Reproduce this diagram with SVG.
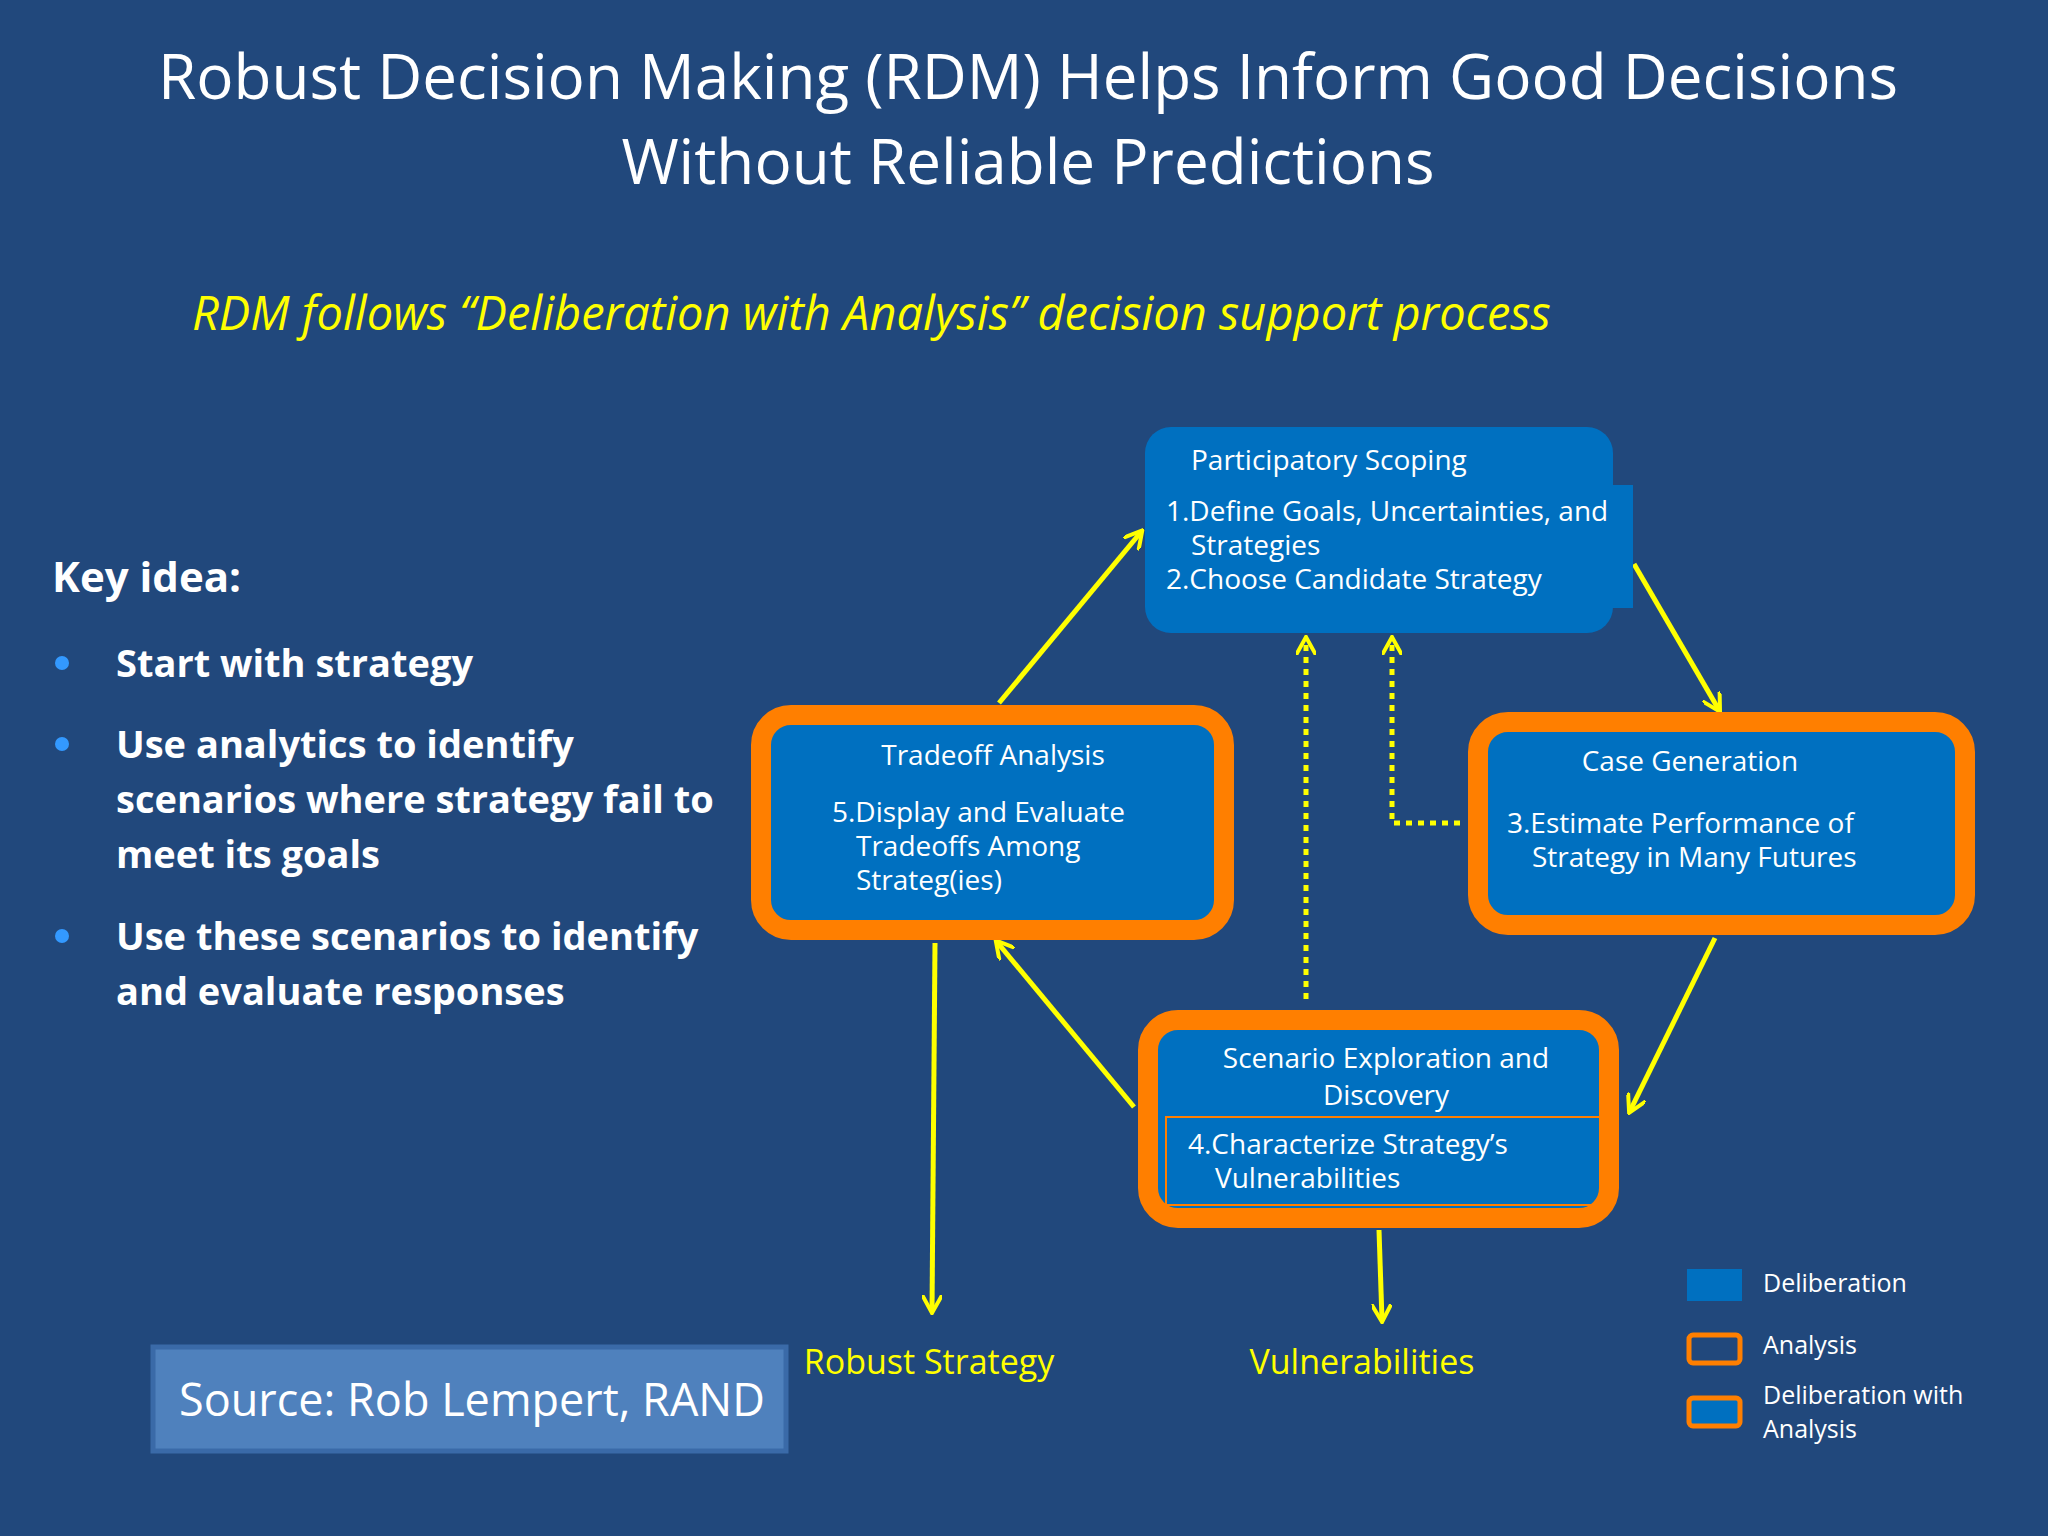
<svg xmlns="http://www.w3.org/2000/svg" width="2048" height="1536" viewBox="0 0 2048 1536">
<defs>
<marker id="ah" viewBox="0 0 10 10" refX="8" refY="5" markerWidth="4" markerHeight="4" orient="auto"><path d="M0,0 L9,5 L0,10" fill="none" stroke="#ffff00" stroke-width="2"/></marker>
</defs>
<style>
text{font-family:"Open Sans","DejaVu Sans",sans-serif;fill:#fff}
.t{font-size:28px}
.kb{font-size:38px;font-weight:bold}
.lg{font-size:25px}
.blue{fill:#0070c0}
.orb{fill:#0070c0;stroke:#ff7f00;stroke-width:20}
.a{stroke:#ffff00;stroke-width:5;fill:none;marker-end:url(#ah)}
.d{stroke:#ffff00;stroke-width:5;fill:none;stroke-dasharray:6,6;marker-end:url(#ah)}
</style>
<rect width="2048" height="1536" fill="#21487c"/>
<g id="title">
<text x="1028" y="99" font-size="62" text-anchor="middle">Robust Decision Making (RDM) Helps Inform Good Decisions</text>
<text x="1028" y="184" font-size="62" text-anchor="middle">Without Reliable Predictions</text>
<text x="192" y="330" font-size="47" font-style="italic" style="fill:#ffff00">RDM follows “Deliberation with Analysis” decision support process</text>
</g>
<g id="keyidea">
<text x="52" y="592" font-size="42" font-weight="bold">Key idea:</text>
<circle cx="62" cy="663" r="7" fill="#3399ff"/><circle cx="62" cy="744" r="7" fill="#3399ff"/><circle cx="62" cy="936" r="7" fill="#3399ff"/>
<text x="116" y="677" class="kb">Start with strategy</text>
<text x="116" y="758" class="kb">Use analytics to identify</text>
<text x="116" y="813" class="kb">scenarios where strategy fail to</text>
<text x="116" y="868" class="kb">meet its goals</text>
<text x="116" y="950" class="kb">Use these scenarios  to identify</text>
<text x="116" y="1005" class="kb">and evaluate responses</text>
</g>
<g id="connectors">
<line x1="999" y1="703" x2="1141" y2="532" class="a"/>
<line x1="1634" y1="564" x2="1719" y2="710" class="a"/>
<line x1="1715" y1="938" x2="1630" y2="1111" class="a"/>
<line x1="1134" y1="1107" x2="997" y2="942" class="a"/>
<line x1="935" y1="943" x2="932" y2="1311" class="a"/>
<line x1="1379" y1="1230" x2="1382" y2="1320" class="a"/>
<line x1="1306" y1="999" x2="1306" y2="639" class="d"/>
<polyline points="1460,823 1392,823 1392,639" class="d"/>
</g>
<g id="scoping">
<rect x="1145" y="427" width="468" height="206" rx="26" class="blue"/>
<rect x="1560" y="485" width="73" height="123" class="blue"/>
<text x="1191" y="470" class="t">Participatory Scoping</text>
<text x="1166" y="521" class="t">1.Define Goals, Uncertainties, and</text>
<text x="1191" y="555" class="t">Strategies</text>
<text x="1166" y="589" class="t">2.Choose Candidate Strategy</text>
</g>
<g id="tradeoff">
<rect x="761" y="715" width="463" height="215" rx="30" class="orb"/>
<text x="993" y="765" class="t" text-anchor="middle">Tradeoff Analysis</text>
<text x="832" y="822" class="t">5.Display and Evaluate</text>
<text x="856" y="856" class="t">Tradeoffs Among</text>
<text x="856" y="890" class="t">Strateg(ies)</text>
</g>
<g id="casegen">
<rect x="1478" y="722" width="487" height="203" rx="30" class="orb"/>
<text x="1690" y="771" class="t" text-anchor="middle">Case Generation</text>
<text x="1507" y="833" class="t">3.Estimate Performance of</text>
<text x="1532" y="867" class="t">Strategy in Many Futures</text>
</g>
<g id="scenario">
<rect x="1148" y="1020" width="461" height="198" rx="30" class="orb"/>
<text x="1386" y="1068" class="t" text-anchor="middle">Scenario Exploration and</text>
<text x="1386" y="1105" class="t" text-anchor="middle">Discovery</text>
<rect x="1166" y="1117" width="438" height="88" fill="none" stroke="#ff7f00" stroke-width="2"/>
<text x="1188" y="1154" class="t">4.Characterize Strategy’s</text>
<text x="1215" y="1188" class="t">Vulnerabilities</text>
</g>
<g id="labels">
<text x="929" y="1374" font-size="34" text-anchor="middle" style="fill:#ffff00">Robust Strategy</text>
<text x="1362" y="1374" font-size="34" text-anchor="middle" style="fill:#ffff00">Vulnerabilities</text>
</g>
<g id="source">
<rect x="153" y="1347" width="633" height="104" fill="#4f81bd" stroke="#3a6aa8" stroke-width="5"/>
<text x="179" y="1416" font-size="45">Source: Rob Lempert, RAND</text>
</g>
<g id="legend">
<rect x="1687" y="1269" width="55" height="32" fill="#0070c0"/>
<text x="1763" y="1292" class="lg">Deliberation</text>
<rect x="1689" y="1335" width="51" height="28" rx="4" fill="none" stroke="#ff7f00" stroke-width="5"/>
<text x="1763" y="1354" class="lg">Analysis</text>
<rect x="1689" y="1398" width="51" height="28" rx="4" fill="#0070c0" stroke="#ff7f00" stroke-width="5"/>
<text x="1763" y="1404" class="lg">Deliberation with</text>
<text x="1763" y="1438" class="lg">Analysis</text>
</g>
</svg>
